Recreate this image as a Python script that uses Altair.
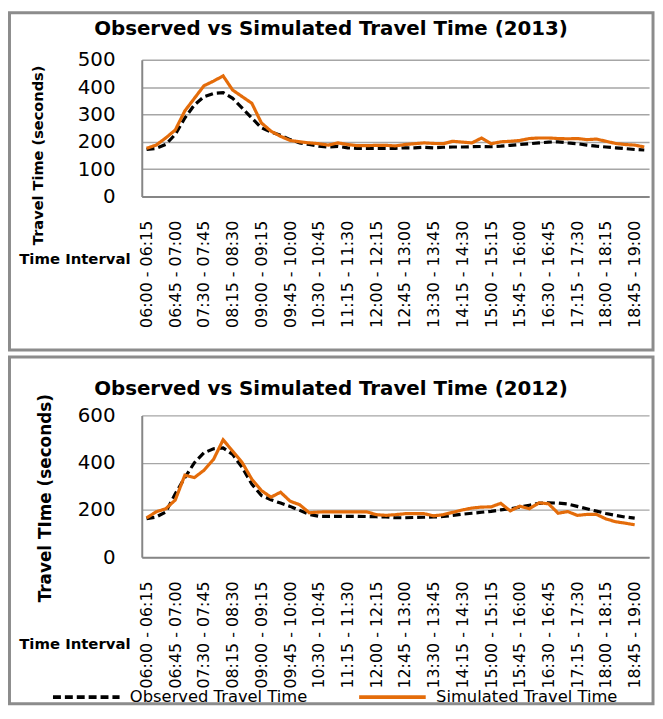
import altair as alt
import pandas as pd

FONT = "DejaVu Sans"
ORANGE = "#E46C0A"
BLACK = "#000000"
FRAME = "#8C8C8C"

intervals = [
    "06:00 - 06:15", "06:15 - 06:30", "06:30 - 06:45", "06:45 - 07:00",
    "07:00 - 07:15", "07:15 - 07:30", "07:30 - 07:45", "07:45 - 08:00",
    "08:00 - 08:15", "08:15 - 08:30", "08:30 - 08:45", "08:45 - 09:00",
    "09:00 - 09:15", "09:15 - 09:30", "09:30 - 09:45", "09:45 - 10:00",
    "10:00 - 10:15", "10:15 - 10:30", "10:30 - 10:45", "10:45 - 11:00",
    "11:00 - 11:15", "11:15 - 11:30", "11:30 - 11:45", "11:45 - 12:00",
    "12:00 - 12:15", "12:15 - 12:30", "12:30 - 12:45", "12:45 - 13:00",
    "13:00 - 13:15", "13:15 - 13:30", "13:30 - 13:45", "13:45 - 14:00",
    "14:00 - 14:15", "14:15 - 14:30", "14:30 - 14:45", "14:45 - 15:00",
    "15:00 - 15:15", "15:15 - 15:30", "15:30 - 15:45", "15:45 - 16:00",
    "16:00 - 16:15", "16:15 - 16:30", "16:30 - 16:45", "16:45 - 17:00",
    "17:00 - 17:15", "17:15 - 17:30", "17:30 - 17:45", "17:45 - 18:00",
    "18:00 - 18:15", "18:15 - 18:30", "18:30 - 18:45", "18:45 - 19:00",
    "19:00 - 19:15",
]
shown_labels = [
    "06:00 - 06:15", "06:45 - 07:00", "07:30 - 07:45", "08:15 - 08:30",
    "09:00 - 09:15", "09:45 - 10:00", "10:30 - 10:45", "11:15 - 11:30",
    "12:00 - 12:15", "12:45 - 13:00", "13:30 - 13:45", "14:15 - 14:30",
    "15:00 - 15:15", "15:45 - 16:00", "16:30 - 16:45", "17:15 - 17:30",
    "18:00 - 18:15", "18:45 - 19:00",
]
series_names = ["Observed Travel Time", "Simulated Travel Time"]

# 2013 panel (53 intervals)
obs_2013 = [172, 176, 190, 227, 287, 335, 365, 377, 380, 359,
            323, 287, 251, 236, 224, 208, 196, 190, 184, 181,
            183, 178, 176, 176, 176, 176, 176, 178, 178, 180,
            178, 180, 181, 181, 182, 183, 182, 184, 187, 190,
            193, 196, 199, 200, 196, 193, 188, 184, 181, 178,
            175, 172, 170]
sim_2013 = [176, 188, 214, 243, 313, 359, 405, 422, 441, 389,
            365, 341, 269, 239, 220, 205, 200, 196, 193, 188,
            196, 190, 186, 186, 187, 187, 185, 190, 193, 196,
            194, 193, 202, 199, 196, 214, 193, 200, 202, 205,
            212, 214, 214, 212, 211, 212, 208, 210, 202, 194,
            190, 188, 181]

# 2012 panel (52 intervals)
obs_2012 = [163, 170, 191, 268, 337, 400, 442, 459, 463, 435,
            379, 309, 261, 243, 229, 215, 198, 181, 173, 173,
            173, 173, 173, 172, 171, 170, 167, 167, 168, 169,
            170, 172, 177, 182, 186, 190, 194, 200, 205, 212,
            220, 228, 230, 229, 225, 215, 205, 195, 185, 177,
            170, 165]
sim_2012 = [166, 192, 205, 242, 347, 337, 368, 414, 497, 449,
            400, 330, 282, 254, 275, 237, 222, 188, 191, 192,
            192, 192, 192, 192, 180, 177, 180, 184, 184, 184,
            175, 180, 190, 200, 208, 212, 213, 228, 196, 216,
            205, 230, 226, 186, 193, 177, 181, 181, 162, 150,
            144, 137]


def long_frame(obs, sim):
    rows = []
    for i, v in enumerate(obs):
        rows.append({"interval": intervals[i], "series": series_names[0], "value": v})
    for i, v in enumerate(sim):
        rows.append({"interval": intervals[i], "series": series_names[1], "value": v})
    return pd.DataFrame(rows)


def panel(obs, sim, title_text, y_title, y_values, height, frame_box,
          title_y, ytitle_xy, ytitle_size, xtitle_y, legend):
    df = long_frame(obs, sim)
    x_enc = alt.X(
        "interval:N",
        sort=intervals,
        scale=alt.Scale(type="point", padding=0.5, domain=intervals),
        axis=alt.Axis(
            values=shown_labels, labelAngle=270, labelFont=FONT, labelFontSize=16,
            labelColor="#000000", labelPadding=24, labelOverlap=False, labelLimit=300,
            ticks=False, tickSize=0, grid=False,
            domainColor="#868686", domainWidth=2,
            title="Time Interval", titleFont=FONT, titleFontSize=15,
            titleFontWeight="bold", titleColor="#000000", titleAngle=0,
            titleAlign="center", titleBaseline="middle",
            titleX=-68, titleY=xtitle_y,
        ),
    )
    y_enc = alt.Y(
        "value:Q",
        scale=alt.Scale(domain=[y_values[0], y_values[-1]], nice=False, zero=True),
        axis=alt.Axis(
            values=y_values, labelFont=FONT, labelFontSize=20, labelColor="#000000",
            labelPadding=27, ticks=False, tickSize=0,
            domainColor="#868686", domainWidth=2,
            grid=True, gridColor="#A6A6A6", gridWidth=1.3,
            title=y_title, titleFont=FONT, titleFontSize=ytitle_size,
            titleFontWeight="bold", titleColor="#000000",
            titleAlign="center", titleBaseline="middle",
            titleX=ytitle_xy[0], titleY=ytitle_xy[1],
        ),
    )
    color_scale = alt.Scale(domain=series_names, range=[BLACK, ORANGE])
    dash_scale = alt.Scale(domain=series_names, range=[[8, 4], [1, 0]])
    if legend is None:
        color_enc = alt.Color("series:N", scale=color_scale, legend=None)
        dash_enc = alt.StrokeDash("series:N", scale=dash_scale, legend=None)
    else:
        color_enc = alt.Color("series:N", scale=color_scale, title=None, legend=legend)
        dash_enc = alt.StrokeDash("series:N", scale=dash_scale, title=None, legend=legend)

    lines = alt.Chart(df).mark_line(strokeWidth=3.2).encode(
        x=x_enc, y=y_enc, color=color_enc, strokeDash=dash_enc
    )

    x1, y1, x2, y2 = frame_box
    frame = alt.Chart(pd.DataFrame({"k": [0]})).mark_rect(
        fill="#ffffff", fillOpacity=0, stroke=FRAME, strokeWidth=3
    ).encode(x=alt.value(x1), x2=alt.value(x2), y=alt.value(y1), y2=alt.value(y2))

    title = alt.Chart(pd.DataFrame({"t": [title_text]})).mark_text(
        font=FONT, fontSize=20, fontWeight="bold", color="#000000",
        align="center", baseline="middle"
    ).encode(text="t:N", x=alt.value(191), y=alt.value(title_y))

    return alt.layer(frame, lines, title).properties(width=512, height=height)


# long horizontal legend stroke drawn as a custom path (scaled by sqrt(size)/2)
legend_2012 = alt.Legend(
    orient="none", legendX=-65, legendY=275, direction="horizontal", columns=2,
    symbolType="M-4.8,0H4.8", symbolSize=196, symbolStrokeWidth=4,
    symbolFillColor="transparent",
    labelFont=FONT, labelFontSize=16.5, labelColor="#000000", labelOffset=35,
    labelLimit=400, columnPadding=43, padding=0,
)

top = panel(obs_2013, sim_2013, "Observed vs Simulated Travel Time (2013)",
            "Travel Time (seconds)", [0, 100, 200, 300, 400, 500], 138,
            (-133.5, -47.5, 516, 293), -31, (-104, 96), 14.7, 63, None)
bottom = panel(obs_2012, sim_2012, "Observed vs Simulated Travel Time (2012)",
               "Travel TIme (seconds)", [0, 200, 400, 600], 143,
               (-133.5, -59, 516, 291), -27, (-97, 83), 17, 87, legend_2012)

chart = alt.vconcat(top, bottom, spacing=3).resolve_scale(
    color="independent", strokeDash="independent"
).properties(padding=0).configure_view(strokeWidth=0)

chart.save("out.html", embed_options={"renderer": "svg", "actions": False})
